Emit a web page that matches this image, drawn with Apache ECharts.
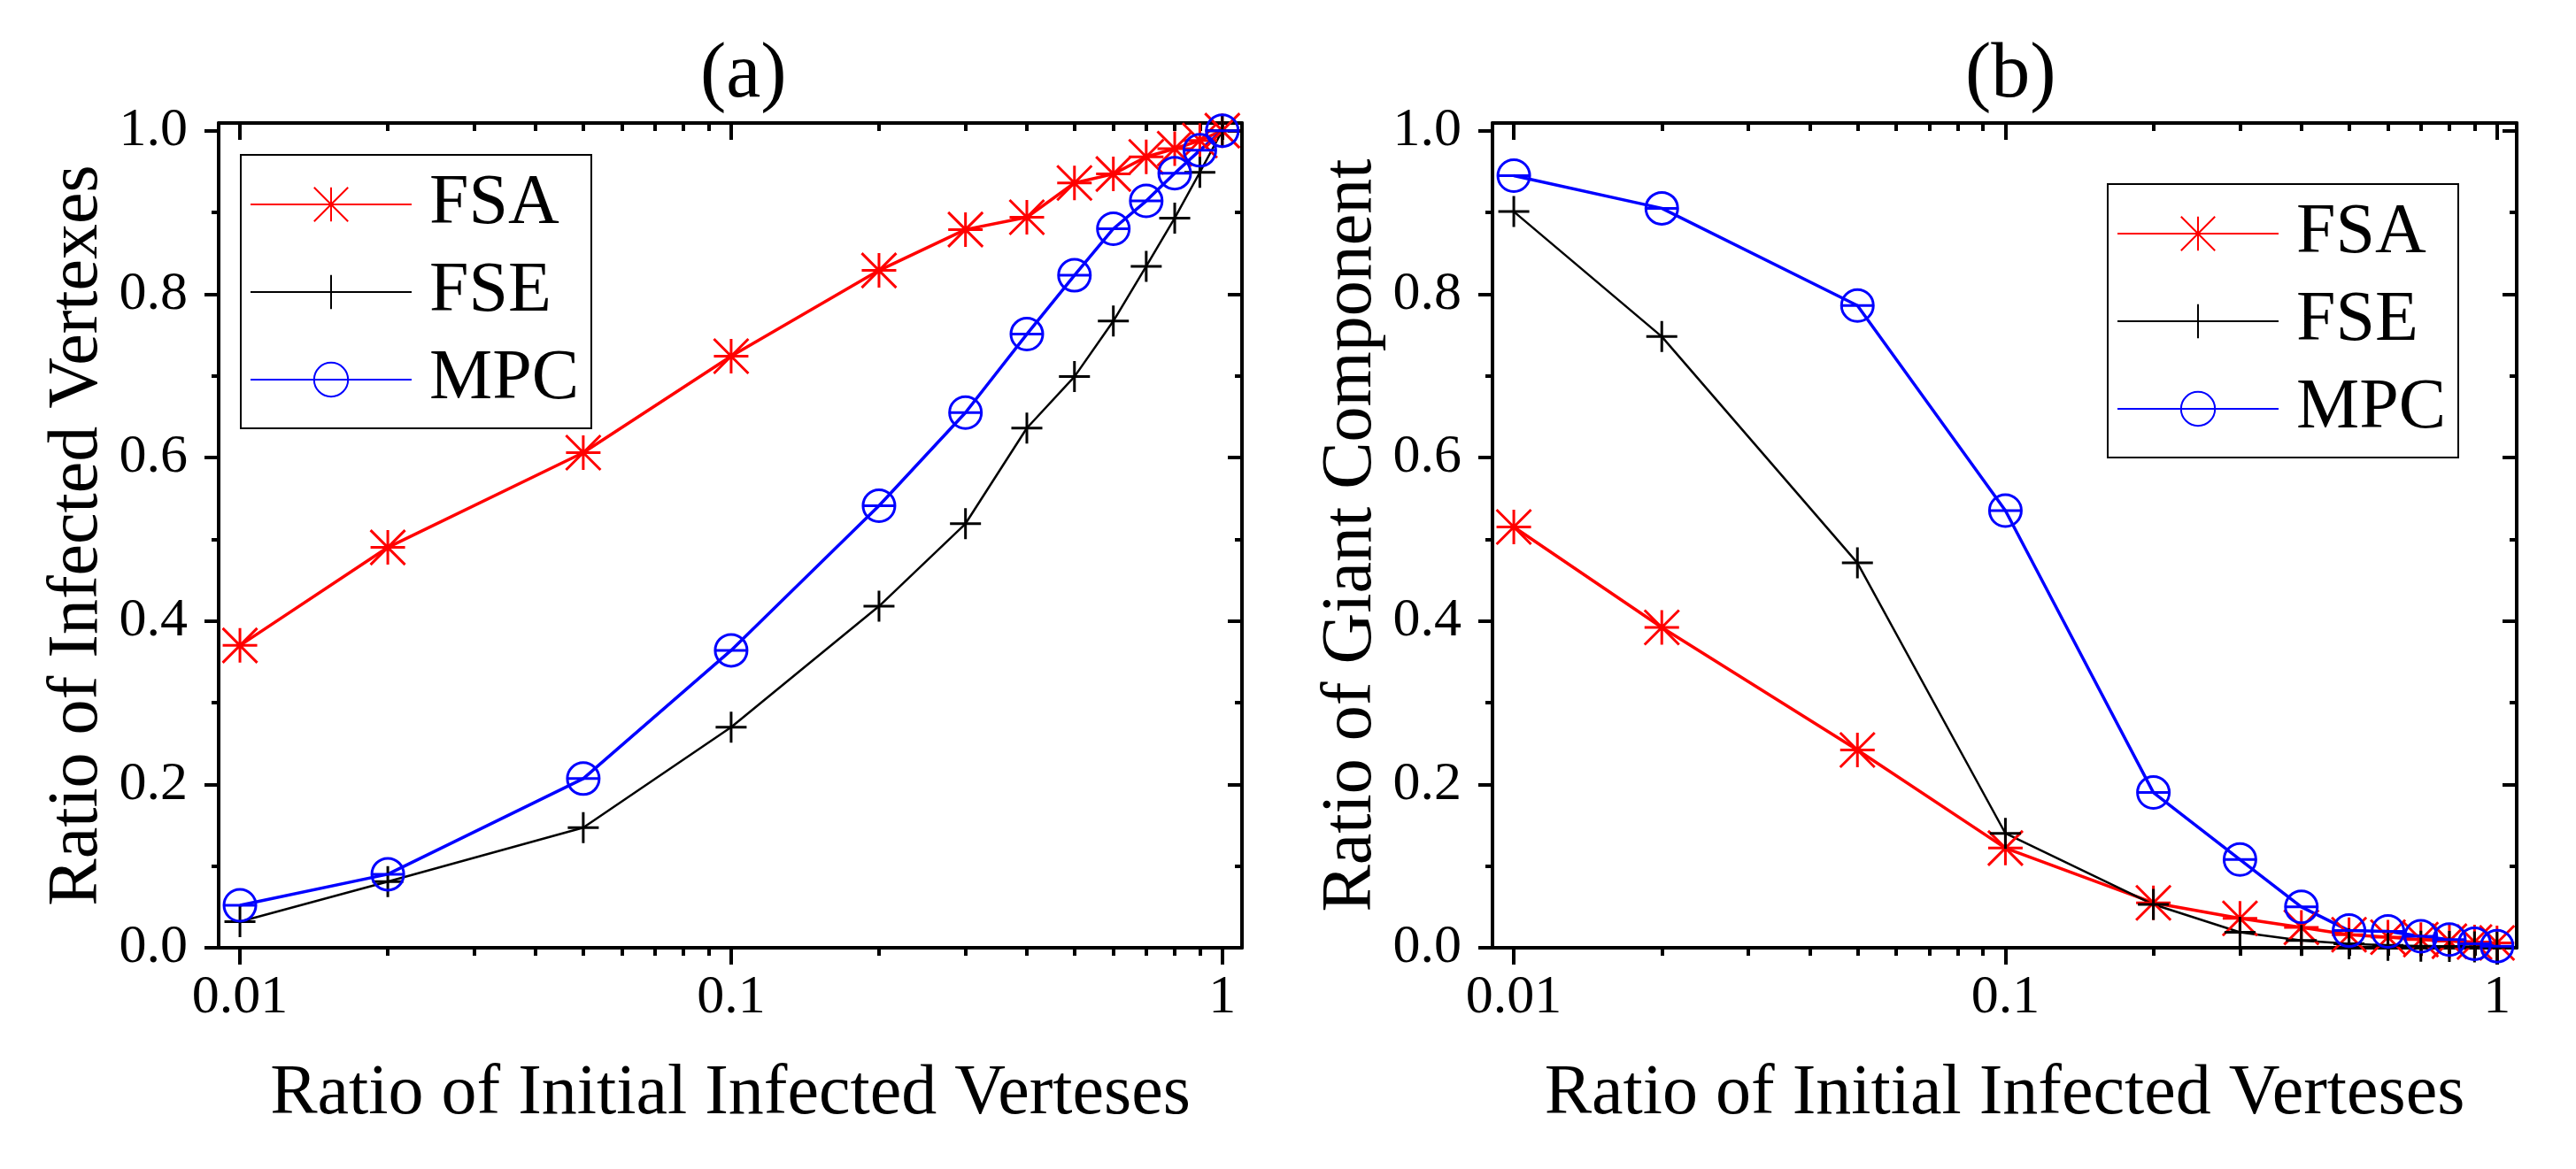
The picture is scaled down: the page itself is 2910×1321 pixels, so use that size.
<!DOCTYPE html>
<html>
<head>
<meta charset="utf-8">
<script src="https://cdn.jsdelivr.net/npm/echarts@6/dist/echarts.min.js"></script>
<style>
  html, body { margin: 0; padding: 0; background: #fff; }
  #chart { width: 2910px; height: 1321px; }
</style>
</head>
<body>
<div id="chart"></div>
<script>
// x values shared by every curve
var ratios = [0.01, 0.02, 0.05, 0.1, 0.2, 0.3, 0.4, 0.5, 0.6, 0.7, 0.8, 0.9, 1];

// (a) ratio of infected vertexes
var infectedFSA = [0.37, 0.49, 0.606, 0.724, 0.829, 0.879, 0.894, 0.936, 0.947, 0.968, 0.978, 0.988, 1.0];
var infectedFSE = [0.032, 0.081, 0.147, 0.27, 0.418, 0.519, 0.636, 0.699, 0.767, 0.834, 0.893, 0.949, 1.0];
var infectedMPC = [0.052, 0.09, 0.207, 0.364, 0.541, 0.655, 0.751, 0.823, 0.88, 0.914, 0.948, 0.976, 1.0];

// (b) ratio of giant component
var giantFSA = [0.515, 0.392, 0.242, 0.122, 0.055, 0.036, 0.025, 0.016, 0.013, 0.010, 0.008, 0.007, 0.006];
var giantFSE = [0.901, 0.748, 0.471, 0.14, 0.053, 0.019, 0.009, 0.005, 0.003, 0.002, 0.0015, 0.001, 0.0005];
var giantMPC = [0.945, 0.905, 0.786, 0.535, 0.19, 0.108, 0.05, 0.021, 0.02, 0.014, 0.01, 0.005, 0.002];

var seriesNames = ['FSA', 'FSE', 'MPC'];

// tick values
var xMajorTicks = [0.01, 0.1, 1];
var xMinorTicks = [0.02, 0.03, 0.04, 0.05, 0.06, 0.07, 0.08, 0.09, 0.2, 0.3, 0.4, 0.5, 0.6, 0.7, 0.8, 0.9];
var yMajorTicks = [0, 0.2, 0.4, 0.6, 0.8, 1.0];
var yMinorTicks = [0.1, 0.3, 0.5, 0.7, 0.9];

var FONT = 'Liberation Serif';
var xMin = 0.00905, xMax = 1.0965, yMax = 1.0094;

var styles = {
  FSA: { color: '#ff0000', width: 3.5, size: 39,
         symbol: 'path://M0,0L10,10M10,0L0,10M5,0L5,10M0,5L10,5' },
  FSE: { color: '#000000', width: 2.5, size: 35,
         symbol: 'path://M5,0L5,10M0,5L10,5' },
  MPC: { color: '#0000ff', width: 3.5, size: 36,
         symbol: 'path://M0,5A5,5,0,1,1,10,5A5,5,0,1,1,0,5ZM0,5L10,5' }
};

function xAxisOf(grid, position, ticks, len, major, name) {
  return {
    type: 'log', logBase: 10, gridIndex: grid, position: position,
    min: xMin, max: xMax,
    name: name || '', nameLocation: 'middle', nameGap: 126,
    nameTextStyle: { fontFamily: FONT, fontSize: 80, color: '#000' },
    axisLine: { show: major, onZero: false, lineStyle: { color: '#000', width: 4 } },
    axisTick: { show: true, inside: position === 'top', length: len, customValues: ticks,
                lineStyle: { color: '#000', width: 4 } },
    axisLabel: { show: position === 'bottom' && major, customValues: ticks, margin: 26,
                 fontFamily: FONT, fontSize: 62, color: '#000',
                 formatter: function (v) { return String(+(+v).toPrecision(3)); } },
    splitLine: { show: false }
  };
}

function yAxisOf(grid, position, ticks, len, major, name) {
  return {
    type: 'value', gridIndex: grid, position: position,
    min: 0, max: yMax,
    name: name || '', nameLocation: 'middle', nameGap: 119,
    nameTextStyle: { fontFamily: FONT, fontSize: 80, color: '#000' },
    axisLine: { show: major, onZero: false, lineStyle: { color: '#000', width: 4 } },
    axisTick: { show: true, inside: position === 'right', length: len, customValues: ticks,
                lineStyle: { color: '#000', width: 4 } },
    axisLabel: { show: position === 'left' && major, customValues: ticks, margin: 35,
                 fontFamily: FONT, fontSize: 62, color: '#000',
                 formatter: function (v) { return (+v).toFixed(1); } },
    splitLine: { show: false }
  };
}

function axesFor(grid, yName) {
  return {
    x: [
      xAxisOf(grid, 'bottom', xMajorTicks, 19, true, 'Ratio of Initial Infected Verteses'),
      xAxisOf(grid, 'bottom', xMinorTicks, 9, false),
      xAxisOf(grid, 'top', xMajorTicks, 19, true),
      xAxisOf(grid, 'top', xMinorTicks, 9, false)
    ],
    y: [
      yAxisOf(grid, 'left', yMajorTicks, 16, true, yName),
      yAxisOf(grid, 'left', yMinorTicks, 8, false),
      yAxisOf(grid, 'right', yMajorTicks, 16, true),
      yAxisOf(grid, 'right', yMinorTicks, 8, false)
    ]
  };
}

function lineSeries(name, values, grid) {
  var s = styles[name];
  return {
    name: name, type: 'line', xAxisIndex: grid * 4, yAxisIndex: grid * 4,
    data: ratios.map(function (r, i) { return [r, values[i]]; }),
    symbol: s.symbol, symbolSize: s.size, showAllSymbol: true,
    lineStyle: { color: s.color, width: s.width },
    itemStyle: { color: 'rgba(0,0,0,0)', borderColor: s.color, borderWidth: 3 },
    emphasis: { disabled: true },
    clip: false
  };
}

function legendAt(left, top) {
  return {
    data: seriesNames, orient: 'vertical', left: left, top: top,
    itemWidth: 182, itemHeight: 48, itemGap: 19,
    padding: [16, 14, 15, 10],
    backgroundColor: '#fff', borderColor: '#000', borderWidth: 2,
    selectedMode: false,
    textStyle: { fontFamily: FONT, fontSize: 80, color: '#000', padding: [0, 0, 0, 15] }
  };
}

var axA = axesFor(0, 'Ratio of Infected Vertexes');
var axB = axesFor(1, 'Ratio of Giant Component');

var option = {
  backgroundColor: '#fff',
  animation: false,
  textStyle: { fontFamily: FONT },
  title: [
    { text: '(a)', left: 791, top: 42, padding: 0,
      textStyle: { fontFamily: FONT, fontSize: 88, fontWeight: 'normal', color: '#000' } },
    { text: '(b)', left: 2220, top: 42, padding: 0,
      textStyle: { fontFamily: FONT, fontSize: 88, fontWeight: 'normal', color: '#000' } }
  ],
  grid: [
    { left: 247, top: 139, width: 1156, height: 932, outerBoundsMode: 'none' },
    { left: 1686, top: 139, width: 1157, height: 932, outerBoundsMode: 'none' }
  ],
  legend: [legendAt(272, 175), legendAt(2381, 208)],
  xAxis: axA.x.concat(axB.x),
  yAxis: axA.y.concat(axB.y),
  series: [
    lineSeries('FSA', infectedFSA, 0),
    lineSeries('FSE', infectedFSE, 0),
    lineSeries('MPC', infectedMPC, 0),
    lineSeries('FSA', giantFSA, 1),
    lineSeries('FSE', giantFSE, 1),
    lineSeries('MPC', giantMPC, 1)
  ]
};

var myChart = echarts.init(document.getElementById('chart'));
myChart.setOption(option);
</script>
</body>
</html>
